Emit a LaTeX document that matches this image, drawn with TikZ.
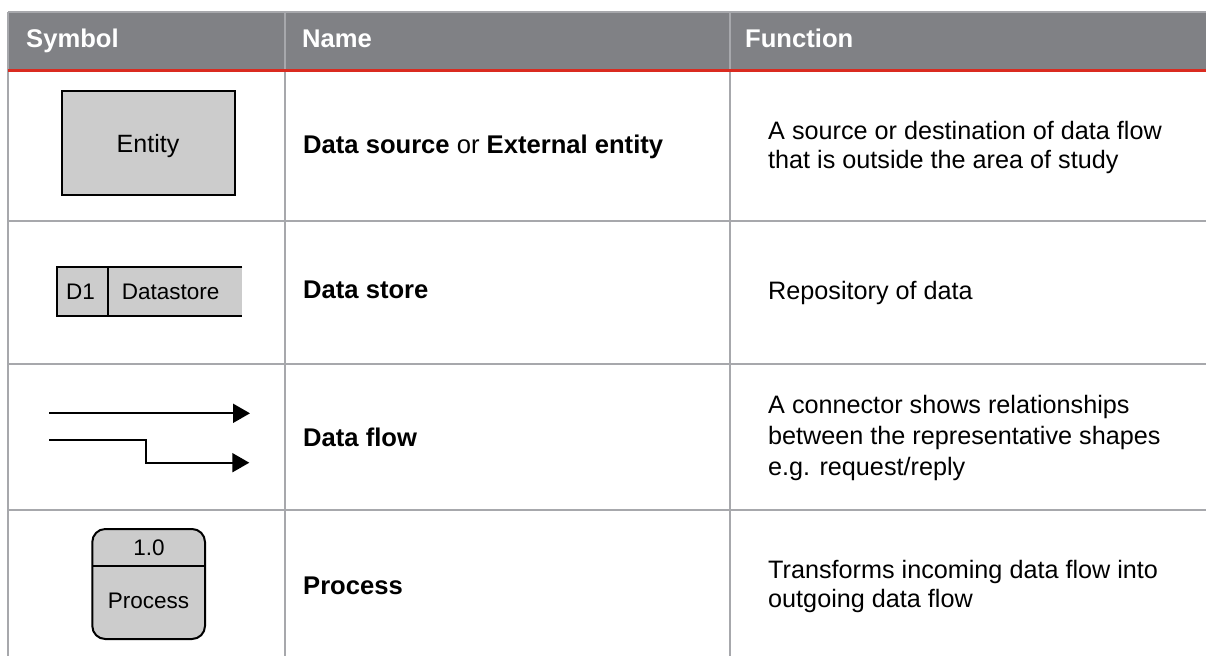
\documentclass[tikz,border=0pt]{standalone}
\usepackage{fontspec}
\setmainfont{Liberation Sans}
\usetikzlibrary{arrows.meta}
\definecolor{hdr}{HTML}{808185}
\definecolor{gridc}{HTML}{A7A8AC}
\definecolor{redline}{HTML}{DA2B20}
\definecolor{shapefill}{HTML}{CCCCCC}
\begin{document}
\begin{tikzpicture}[x=1pt,y=-1pt,
  hdrtext/.style={anchor=base west, text=white, font=\fontsize{25.6}{30}\selectfont\bfseries, inner sep=0pt},
  nametext/.style={anchor=base west, font=\fontsize{25.6}{30}\selectfont\bfseries, inner sep=0pt},
  functext/.style={anchor=base west, font=\fontsize{25.2}{30}\selectfont, inner sep=0pt},
  symtext/.style={anchor=base, font=\fontsize{22.5}{27}\selectfont, inner sep=0pt},
  gridline/.style={draw=gridc, line width=2pt},
  shapeline/.style={draw=black, line width=2pt},
  flowline/.style={line width=2pt, -{Triangle[length=17pt,width=19pt]}}
]
% canvas
\fill[white] (0,0) rectangle (1206,656);
\useasboundingbox (0,0) rectangle (1206,656);

% header band
\fill[hdr] (8,12) rectangle (1206,70);

% grid lines
\draw[gridline] (8,12) -- (1206,12);
\draw[gridline] (8.3,12) -- (8.3,656);
\draw[gridline] (285.3,12) -- (285.3,656);
\draw[gridline] (730,12) -- (730,656);
\draw[gridline] (8,221) -- (1206,221);
\draw[gridline] (8,364.3) -- (1206,364.3);
\draw[gridline] (8,510.3) -- (1206,510.3);
\draw[redline, line width=3pt] (8,70.5) -- (1206,70.5);

% header texts
\node[hdrtext] (hsym) at (26,47.5) {Symbol};
\node[hdrtext] (hname) at (302,47.5) {Name};
\node[hdrtext] (hfunc) at (745,47.5) {Function};

% row 1: entity
\node[shapeline, fill=shapefill, minimum width=173pt, minimum height=104.3pt,
      inner sep=0pt, text height=18.3pt, text depth=0pt,
      font=\fontsize{25}{30}\selectfont] (entity) at (148,143.15) {Entity};
\node[nametext] (n1) at (303,153.3) {Data source {\mdseries or} External entity};
\node[functext] (f1a) at (768,139.3) {A source or destination of data flow};
\node[functext] (f1b) at (768,168.3) {that is outside the area of study};

% row 2: data store
\fill[shapefill] (57,267) rectangle (242.3,315.7);
\draw[shapeline] (242.3,267) -- (57,267) -- (57,315.7) -- (242.3,315.7);
\draw[shapeline] (108.3,267) -- (108.3,315.7);
\node[symtext] (d1) at (80.5,299) {D1};
\node[symtext] (dstore) at (170.7,299) {Datastore};
\node[nametext] (n2) at (303,298) {Data store};
\node[functext] (f2) at (768,299.3) {Repository of data};

% row 3: data flow
\coordinate (a1s) at (49.3,413.3);
\coordinate (a1e) at (250,413.3);
\coordinate (a2s) at (49.3,440);
\coordinate (a2m) at (146,440);
\coordinate (a2e) at (249.3,462.7);
\draw[flowline] (a1s) -- (a1e);
\draw[flowline] (a2s) -- (a2m) |- (a2e);
\node[nametext] (n3) at (303,446) {Data flow};
\node[functext] (f3a) at (768,413.3) {A connector shows relationships};
\node[functext] (f3b) at (768,444.3) {between the representative shapes};
\node[functext] (f3c) at (768,475.3) {e.g. request/reply};

% row 4: process
\draw[shapeline, fill=shapefill, rounded corners=13pt] (92.3,529) rectangle (205,639);
\draw[shapeline] (92.3,565.7) -- (205,565.7);
\node[symtext] (pnum) at (149,555) {1.0};
\node[symtext] (pname) at (148.5,608) {Process};
\node[nametext] (n4) at (303,594) {Process};
\node[functext] (f4a) at (768,578.3) {Transforms incoming data flow into};
\node[functext] (f4b) at (768,607.3) {outgoing data flow};
\end{tikzpicture}
\end{document}
